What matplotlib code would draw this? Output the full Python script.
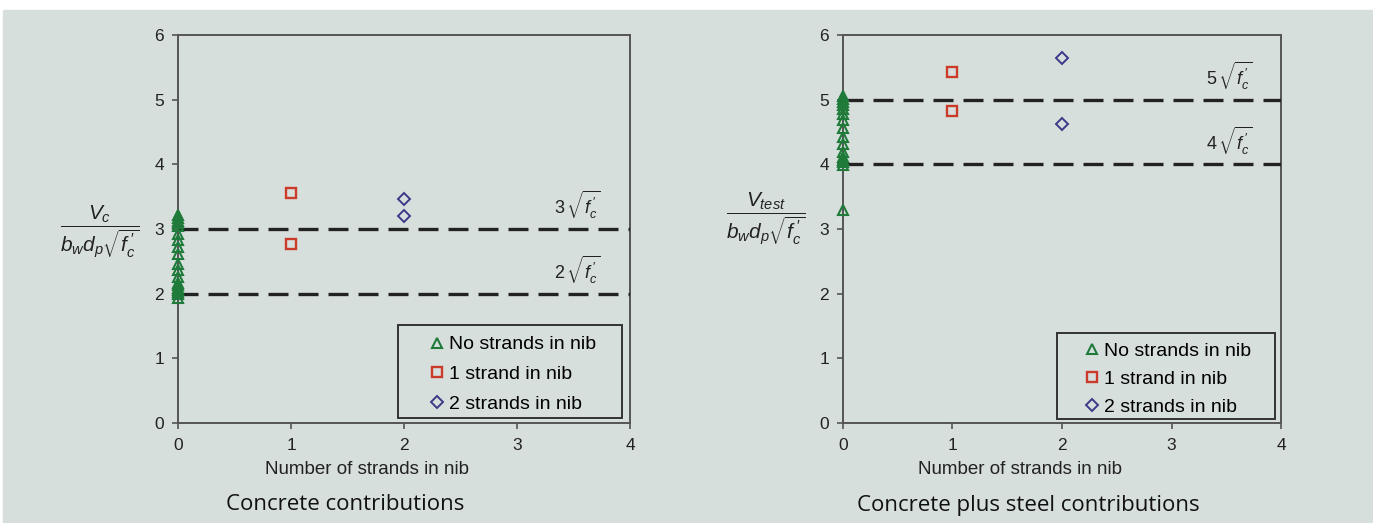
import matplotlib
matplotlib.use("Agg")
import matplotlib.pyplot as plt

# measured shear ratios, x = number of strands in nib
vc_none = [3.21, 3.17, 3.13, 3.09, 3.04, 2.93, 2.83, 2.72, 2.62, 2.46, 2.37,
           2.26, 2.17, 2.13, 2.09, 2.06, 2.03, 1.99, 1.94]
vc_one = [3.55, 2.77]
vc_two = [3.46, 3.20]

vt_none = [5.06, 5.01, 4.96, 4.91, 4.86, 4.78, 4.68, 4.56, 4.43, 4.31, 4.19,
           4.11, 4.06, 4.03, 3.99, 3.30]
vt_one = [5.43, 4.83]
vt_two = [5.64, 4.63]

vc_limits = [3, 2]
vt_limits = [5, 4]

legend_labels = ["No strands in nib", "1 strand in nib", "2 strands in nib"]
captions = ["Concrete contributions", "Concrete plus steel contributions"]

bg = "#d7dfdd"
plt.rcParams["font.family"] = ["Liberation Sans", "DejaVu Sans"]
plt.rcParams["mathtext.fontset"] = "custom"
plt.rcParams["mathtext.rm"] = "Liberation Sans"
plt.rcParams["mathtext.it"] = "Liberation Sans:italic"
plt.rcParams["mathtext.bf"] = "Liberation Sans:bold"

fig = plt.figure(figsize=(13.73, 5.23), dpi=100, facecolor="white")
fig.patches.append(plt.Rectangle((3 / 1373, 0), 1, 1 - 10 / 523,
                                 transform=fig.transFigure, color=bg, zorder=-10))

ax1 = fig.add_axes([178 / 1373, 100 / 523, 452 / 1373, 388 / 523])
ax2 = fig.add_axes([843 / 1373, 100 / 523, 438 / 1373, 388 / 523])


def draw(ax, none, one, two, limits, ylab, ylab_pos, xlab_x, box, leg_pos, spacing):
    ax.set_facecolor(bg)
    ax.plot([0] * len(none), none, "^", mfc="none", mec="#1e7b3a", ms=7.5, mew=1.5,
            clip_on=False, zorder=5, label=legend_labels[0])
    ax.plot([1] * len(one), one, "s", mfc="none", mec="#cc3a2a", ms=7, mew=1.7,
            clip_on=False, zorder=5, label=legend_labels[1])
    ax.plot([2] * len(two), two, "D", mfc="none", mec="#3a3a88", ms=6.5, mew=1.4,
            clip_on=False, zorder=5, label=legend_labels[2])
    for v in limits:
        ax.axhline(v, color="#222222", lw=2.4, ls=(0, (6, 3)), zorder=3)
        ax.text(3.53, v + 0.12, r"$%d\,\sqrt{f^{\,\prime}_{c}}$" % v, ha="center",
                va="bottom", fontsize=13, color="#222222")
    ax.set_xlim(0, 4)
    ax.set_ylim(0, 6)
    ax.set_xticks(range(5))
    ax.set_yticks(range(7))
    for s in ax.spines.values():
        s.set_color("#555555")
        s.set_linewidth(1.4)
    ax.tick_params(direction="out", length=4, width=1.2, color="#555555",
                   labelsize=12.5, labelcolor="#222222")
    ax.tick_params(axis="y", pad=6)
    ax.tick_params(axis="x", pad=7)
    ax.set_xlabel("Number of strands in nib", fontsize=13.5, color="#222222")
    ax.xaxis.set_label_coords(xlab_x, -0.098)
    ax.set_ylabel(ylab, rotation=0, fontsize=15, color="#222222",
                  va="center", ha="center")
    ax.yaxis.set_label_coords(*ylab_pos)

    # legend frame drawn separately so the entries can sit off-centre in it
    x0, y0, x1, y1 = box
    ax.add_patch(plt.Rectangle((x0, y0), x1 - x0, y1 - y0, transform=ax.transAxes,
                               fc=bg, ec="#333333", lw=1.4, zorder=6))
    leg = ax.legend(loc="upper left", bbox_to_anchor=leg_pos, fontsize=14,
                    frameon=False, handlelength=1.0, handletextpad=0.12,
                    borderpad=0, labelspacing=spacing, borderaxespad=0)
    leg.set_zorder(7)


draw(ax1, vc_none, vc_one, vc_two, vc_limits,
     r"$\dfrac{V_c}{b_w d_p \sqrt{f^{\,\prime}_c}}$", (-0.173, 0.49), 0.418,
     (0.487, 0.013, 0.982, 0.253), (0.551, 0.225), 0.62)
draw(ax2, vt_none, vt_one, vt_two, vt_limits,
     r"$\dfrac{V_{test}}{b_w d_p \sqrt{f^{\,\prime}_c}}$", (-0.176, 0.525), 0.404,
     (0.489, 0.010, 0.986, 0.232), (0.546, 0.209), 0.55)

for x, text in zip([345 / 1373, 1028 / 1373], captions):
    fig.text(x, 1 - 505 / 523, text, ha="center", va="center", fontsize=16,
             family="Open Sans", color="#111111")

fig.savefig("out.png", dpi=100, facecolor="white")
